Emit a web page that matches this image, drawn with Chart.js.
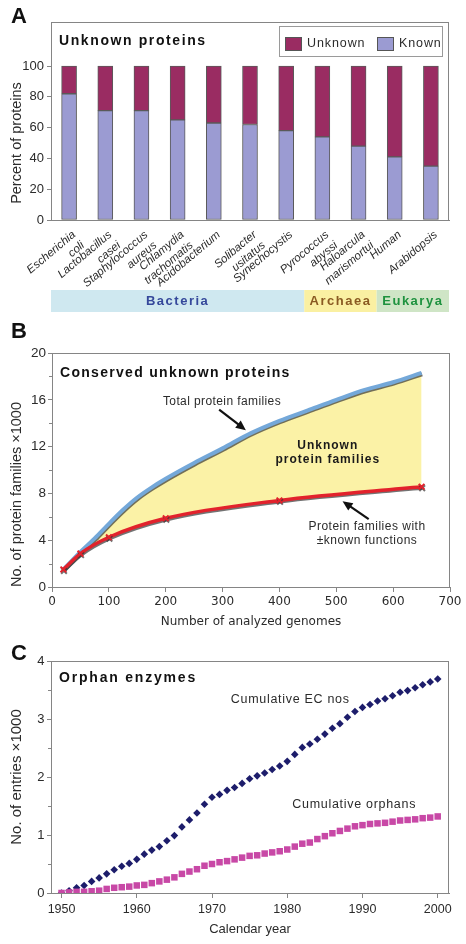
<!DOCTYPE html>
<html>
<head>
<meta charset="utf-8">
<script src="https://cdn.jsdelivr.net/npm/chart.js@4.4.1/dist/chart.umd.min.js"></script>
<style>
  html, body { margin: 0; padding: 0; background: #fff; }
  body { width: 466px; height: 944px; position: relative; overflow: hidden; }
  .panel { position: absolute; left: 0; width: 466px; }
</style>
</head>
<body>
<div class="panel" style="top:0;height:320px"><canvas id="chartA" width="466" height="320"></canvas></div>
<div class="panel" style="top:320px;height:310px"><canvas id="chartB" width="466" height="310"></canvas></div>
<div class="panel" style="top:630px;height:314px"><canvas id="chartC" width="466" height="314"></canvas></div>
<script>
// ---------- data: panel A ----------
const organisms = [
  ["Escherichia", "coli"], ["Lactobacillus", "casei"], ["Staphylococcus", "aureus"],
  ["Chlamydia", "trachomatis"], "Acidobacterium", ["Solibacter", "usitatus"],
  "Synechocystis", ["Pyrococcus", "abyssi"], ["Haloarcula", "marismortui"],
  "Human", "Arabidopsis"
];
const knownPct = [82, 71, 71, 65, 63, 62, 58, 54, 48, 41, 35];
const unknownPct = [18, 29, 29, 35, 37, 38, 42, 46, 52, 59, 65];
const pctTicks = [0, 20, 40, 60, 80, 100];
const domains = ["Bacteria", "Archaea", "Eukarya"];
const domainSize = [7, 2, 2];

// ---------- data: panel B (thousands of families) ----------
const genomesTotal = [20, 50, 75, 100, 125, 150, 175, 200, 250, 300, 350, 400, 450, 500, 550, 600, 650];
const totalFamilies = [1.5, 3.0, 4.15, 5.4, 6.6, 7.65, 8.5, 9.25, 10.6, 11.85, 13.15, 14.2, 15.1, 16.0, 16.85, 17.5, 18.3];
const genomesKnown = [20, 50, 100, 200, 400, 650];
const knownFamilies = [1.5, 2.85, 4.25, 5.87, 7.4, 8.57];

// ---------- data: panel C (thousands of entries) ----------
const years = [
  1950, 1951, 1952, 1953, 1954, 1955, 1956, 1957, 1958, 1959,
  1960, 1961, 1962, 1963, 1964, 1965, 1966, 1967, 1968, 1969,
  1970, 1971, 1972, 1973, 1974, 1975, 1976, 1977, 1978, 1979,
  1980, 1981, 1982, 1983, 1984, 1985, 1986, 1987, 1988, 1989,
  1990, 1991, 1992, 1993, 1994, 1995, 1996, 1997, 1998, 1999, 2000
];
const ecNos = [
  0, 0.04, 0.09, 0.13, 0.2, 0.26, 0.33, 0.4, 0.46, 0.51,
  0.58, 0.67, 0.74, 0.8, 0.9, 0.99, 1.14, 1.26, 1.38, 1.53,
  1.65, 1.7, 1.77, 1.82, 1.89, 1.97, 2.02, 2.07, 2.13, 2.19,
  2.27, 2.39, 2.51, 2.57, 2.65, 2.74, 2.84, 2.92, 3.03, 3.13,
  3.2, 3.25, 3.31, 3.35, 3.4, 3.46, 3.49, 3.54, 3.59, 3.64, 3.69
];
const orphans = [
  0, 0.01, 0.02, 0.02, 0.03, 0.04, 0.07, 0.09, 0.1, 0.11,
  0.13, 0.14, 0.17, 0.2, 0.23, 0.27, 0.33, 0.37, 0.41, 0.47,
  0.5, 0.53, 0.55, 0.58, 0.61, 0.64, 0.65, 0.68, 0.7, 0.72,
  0.75, 0.8, 0.85, 0.87, 0.93, 0.98, 1.03, 1.07, 1.11, 1.15,
  1.17, 1.19, 1.2, 1.21, 1.23, 1.25, 1.26, 1.27, 1.29, 1.3, 1.32
];
const yearTicks = [1950, 1960, 1970, 1980, 1990, 2000];

// ---------- look ----------
const FONT = "'Liberation Sans', Arial, sans-serif";
const WIDE = "'DejaVu Sans', Verdana, sans-serif";
const TEXT = "#2b2b2b";
const AXIS = "#858585";
const KNOWN_COLOR = "#9b9bd2";
const UNKNOWN_COLOR = "#9a2c62";
const BLUE = "#74a8d9";
const RED = "#e2222c";
const YELLOW = "#fbf2a6";
const NAVY = "#1d1d6b";
const MAGENTA = "#c848a6";
const domainBg = ["#cfe8f0", "#faf0a2", "#cfe5c6"];
const domainText = ["#35489b", "#8a5a22", "#1e923f"];

Chart.defaults.font.family = FONT;
Chart.defaults.color = TEXT;
Chart.defaults.animation = false;

function label(ctx, text, x, y, font, opts = {}) {
  ctx.save();
  ctx.font = font;
  ctx.fillStyle = opts.color || TEXT;
  ctx.letterSpacing = (opts.spacing || 0) + "px";
  ctx.textAlign = opts.align || "center";
  ctx.textBaseline = "middle";
  ctx.fillText(text, x, y);
  ctx.restore();
}

function panelLetter(ctx, letter, baseline) {
  ctx.save();
  ctx.font = `bold 22px ${FONT}`;
  ctx.fillStyle = "#111";
  ctx.textBaseline = "alphabetic";
  ctx.fillText(letter, 11, baseline);
  ctx.restore();
}

function arrow(ctx, x1, y1, x2, y2) {
  const c = Math.cos(Math.atan2(y2 - y1, x2 - x1));
  const s = Math.sin(Math.atan2(y2 - y1, x2 - x1));
  ctx.save();
  ctx.strokeStyle = "#111";
  ctx.fillStyle = "#111";
  ctx.lineWidth = 2.2;
  ctx.beginPath();
  ctx.moveTo(x1, y1);
  ctx.lineTo(x2 - 7 * c, y2 - 7 * s);
  ctx.stroke();
  ctx.beginPath();
  ctx.moveTo(x2, y2);
  ctx.lineTo(x2 - 10 * c + 4.5 * s, y2 - 10 * s - 4.5 * c);
  ctx.lineTo(x2 - 10 * c - 4.5 * s, y2 - 10 * s + 4.5 * c);
  ctx.closePath();
  ctx.fill();
  ctx.restore();
}

function minorTicks(chart, majorStep) {
  const { ctx, chartArea: a, scales: { y } } = chart;
  ctx.save();
  ctx.strokeStyle = AXIS;
  ctx.lineWidth = 1;
  ctx.beginPath();
  for (let v = y.min + majorStep / 2; v < y.max; v += majorStep) {
    const py = Math.round(y.getPixelForValue(v)) + 0.5;
    ctx.moveTo(a.left - 3, py);
    ctx.lineTo(a.left, py);
  }
  ctx.stroke();
  ctx.restore();
}

const frame = {
  id: "frame",
  beforeDatasetsDraw(chart) {
    const { ctx, chartArea: a } = chart;
    ctx.save();
    ctx.strokeStyle = AXIS;
    ctx.lineWidth = 1;
    ctx.strokeRect(Math.round(a.left) + 0.5, Math.round(a.top) + 0.5,
      Math.round(a.right - a.left) - 1, Math.round(a.bottom - a.top));
    ctx.restore();
  }
};

// ---------- panel A ----------
const decorA = {
  id: "decorA",
  afterDraw(chart) {
    const { ctx, chartArea: a, scales: { x, y } } = chart;
    panelLetter(ctx, "A", 23);
    label(ctx, "Unknown proteins", a.left + 8, a.top + 19, `bold 14px ${FONT}`,
      { align: "left", spacing: 1.6, color: "#111" });

    ctx.save();
    ctx.translate(17, (y.getPixelForValue(0) + y.getPixelForValue(100)) / 2);
    ctx.rotate(-Math.PI / 2);
    label(ctx, "Percent of proteins", 0, 0, `14.5px ${FONT}`);
    ctx.restore();

    // legend box
    const bx = a.right - 170, by = a.top + 4;
    ctx.save();
    ctx.fillStyle = "#fff";
    ctx.strokeStyle = "#9a9a9a";
    ctx.fillRect(bx, by, 163, 30);
    ctx.strokeRect(bx + 0.5, by + 0.5, 163, 30);
    const items = chart.data.datasets.slice().reverse();
    const offsets = [6, 98];
    items.forEach((ds, i) => {
      const sx = bx + offsets[i];
      ctx.fillStyle = ds.backgroundColor;
      ctx.strokeStyle = "#555";
      ctx.fillRect(sx, by + 11, 16, 13);
      ctx.strokeRect(sx + 0.5, by + 11.5, 16, 13);
      label(ctx, ds.label, sx + 22, by + 18, `12.5px ${FONT}`, { align: "left", spacing: 0.9 });
    });
    ctx.restore();

    // domain band
    const top = a.bottom + 70, h = 22;
    let start = 0;
    let left = a.left;
    domains.forEach((name, i) => {
      const endIdx = start + domainSize[i] - 1;
      const right = endIdx === organisms.length - 1 ? a.right
        : (x.getPixelForTick(endIdx) + x.getPixelForTick(endIdx + 1)) / 2;
      ctx.fillStyle = domainBg[i];
      ctx.fillRect(left, top, right - left, h);
      label(ctx, name, (left + right) / 2, top + h / 2 + 0.5, `bold 13px ${FONT}`,
        { color: domainText[i], spacing: 1.5 });
      left = right;
      start += domainSize[i];
    });
  }
};

new Chart(document.getElementById("chartA"), {
  type: "bar",
  data: {
    labels: organisms,
    datasets: [
      { label: "Known", data: knownPct, backgroundColor: KNOWN_COLOR, borderColor: "#5a5a5a",
        borderWidth: 1, borderSkipped: false, barThickness: 15 },
      { label: "Unknown", data: unknownPct, backgroundColor: UNKNOWN_COLOR, borderColor: "#5a5a5a",
        borderWidth: 1, borderSkipped: false, barThickness: 15 }
    ]
  },
  options: {
    responsive: false,
    layout: { padding: { left: 0, right: 17, top: 22, bottom: 0 } },
    plugins: { legend: { display: false }, tooltip: { enabled: false } },
    scales: {
      x: {
        stacked: true,
        grid: { display: false },
        border: { color: AXIS },
        ticks: {
          autoSkip: false, minRotation: 40, maxRotation: 40, padding: 0, labelOffset: 5,
          color: TEXT, font: { size: 11.5, style: "italic" }
        },
        afterFit(s) { s.height = 100; }
      },
      y: {
        stacked: true, min: 0, max: 128.6,
        afterBuildTicks(s) { s.ticks = pctTicks.map((v) => ({ value: v })); },
        grid: { drawOnChartArea: false, tickLength: 4, color: AXIS },
        border: { color: AXIS },
        ticks: { padding: 3, color: TEXT, font: { size: 13 } },
        afterFit(s) { s.width = 51; }
      }
    }
  },
  plugins: [frame, decorA]
});

// ---------- panel B ----------
const lineShadow = {
  id: "lineShadow",
  beforeDatasetDraw(chart) {
    const c = chart.ctx;
    c.save();
    c.shadowColor = "rgba(55,55,55,0.7)";
    c.shadowOffsetX = 0.6;
    c.shadowOffsetY = 1.4;
    c.shadowBlur = 0;
  },
  afterDatasetDraw(chart) { chart.ctx.restore(); }
};

const decorB = {
  id: "decorB",
  afterDraw(chart) {
    const { ctx, chartArea: a, scales: { x, y } } = chart;
    panelLetter(ctx, "B", 18);
    minorTicks(chart, 4);
    label(ctx, "Conserved unknown proteins", a.left + 8, a.top + 20, `bold 14px ${FONT}`,
      { align: "left", spacing: 1.3, color: "#111" });
    label(ctx, "Total protein families", x.getPixelForValue(299), y.getPixelForValue(15.8),
      `12px ${FONT}`, { spacing: 0.4 });
    arrow(ctx, x.getPixelForValue(294), y.getPixelForValue(15.16),
      x.getPixelForValue(341), y.getPixelForValue(13.4));
    label(ctx, "Unknown", x.getPixelForValue(485), y.getPixelForValue(12.05),
      `bold 12px ${FONT}`, { spacing: 1, color: "#1a1a1a" });
    label(ctx, "protein families", x.getPixelForValue(485), y.getPixelForValue(10.85),
      `bold 12px ${FONT}`, { spacing: 1, color: "#1a1a1a" });
    label(ctx, "Protein families with", x.getPixelForValue(554), y.getPixelForValue(5.13),
      `12px ${FONT}`, { spacing: 0.5 });
    label(ctx, "\u00b1known functions", x.getPixelForValue(554), y.getPixelForValue(3.93),
      `12px ${FONT}`, { spacing: 0.5 });
    arrow(ctx, x.getPixelForValue(557), y.getPixelForValue(5.8),
      x.getPixelForValue(511), y.getPixelForValue(7.33));
  }
};

new Chart(document.getElementById("chartB"), {
  type: "line",
  data: {
    datasets: [
      {
        label: "Protein families with \u00b1known functions",
        data: genomesKnown.map((g, i) => ({ x: g, y: knownFamilies[i] })),
        borderColor: RED, borderWidth: 3.5,
        pointStyle: "crossRot", pointRadius: 4, pointBorderWidth: 2,
        pointBorderColor: RED, pointBackgroundColor: RED,
        cubicInterpolationMode: "monotone", fill: false
      },
      {
        label: "Total protein families",
        data: genomesTotal.map((g, i) => ({ x: g, y: totalFamilies[i] })),
        borderColor: BLUE, borderWidth: 4, pointRadius: 0,
        cubicInterpolationMode: "monotone",
        fill: "-1", backgroundColor: YELLOW
      }
    ]
  },
  options: {
    responsive: false,
    layout: { padding: { left: 0, right: 16, top: 33, bottom: 0 } },
    plugins: {
      legend: { display: false }, tooltip: { enabled: false },
      filler: { drawTime: "beforeDatasetsDraw" }
    },
    scales: {
      x: {
        type: "linear", min: 0, max: 700,
        ticks: { stepSize: 100, padding: 3, color: TEXT, font: { family: WIDE, size: 12 } },
        grid: { drawOnChartArea: false, tickLength: 5, color: AXIS },
        border: { color: AXIS },
        title: { display: true, text: "Number of analyzed genomes", color: TEXT,
          font: { family: WIDE, size: 12 }, padding: { top: 0, bottom: 1 } },
        afterFit(s) { s.height = 43; }
      },
      y: {
        min: 0, max: 20,
        ticks: { stepSize: 4, padding: 2, color: TEXT, font: { size: 13.5 } },
        grid: { drawOnChartArea: false, tickLength: 4, color: AXIS },
        border: { color: AXIS },
        title: { display: true, text: "No. of protein families \u00d71000", align: "start", color: TEXT,
          font: { size: 14.5 }, padding: { top: 8, bottom: 0 } },
        afterFit(s) { s.width = 52; }
      }
    }
  },
  plugins: [frame, lineShadow, decorB]
});

// ---------- panel C ----------
const decorC = {
  id: "decorC",
  afterDraw(chart) {
    const { ctx, chartArea: a, scales: { x, y } } = chart;
    panelLetter(ctx, "C", 30);
    minorTicks(chart, 1);
    label(ctx, "Orphan enzymes", a.left + 8, a.top + 17, `bold 14px ${FONT}`,
      { align: "left", spacing: 1.8, color: "#111" });
    label(ctx, "Cumulative EC nos", x.getPixelForValue(1980.4), y.getPixelForValue(3.34),
      `12.5px ${FONT}`, { spacing: 0.7 });
    label(ctx, "Cumulative orphans", x.getPixelForValue(1988.9), y.getPixelForValue(1.52),
      `12.5px ${FONT}`, { spacing: 0.7 });
  }
};

new Chart(document.getElementById("chartC"), {
  type: "scatter",
  data: {
    datasets: [
      {
        label: "Cumulative orphans",
        data: years.map((yr, i) => ({ x: yr, y: orphans[i] })),
        pointStyle: "rect", pointRadius: 4.6, pointBorderWidth: 0,
        backgroundColor: MAGENTA, borderColor: MAGENTA
      },
      {
        label: "Cumulative EC nos",
        data: years.map((yr, i) => ({ x: yr, y: ecNos[i] })),
        pointStyle: "rectRot", pointRadius: 3.8, pointBorderWidth: 0,
        backgroundColor: NAVY, borderColor: NAVY
      }
    ]
  },
  options: {
    responsive: false,
    layout: { padding: { left: 0, right: 17, top: 31, bottom: 0 } },
    plugins: { legend: { display: false }, tooltip: { enabled: false } },
    scales: {
      x: {
        type: "linear", min: 1948.6, max: 2001.5,
        afterBuildTicks(s) { s.ticks = yearTicks.map((v) => ({ value: v })); },
        ticks: { padding: 4, color: TEXT, font: { size: 12.5 }, callback: (v) => String(v) },
        grid: { drawOnChartArea: false, tickLength: 5, color: AXIS },
        border: { color: AXIS },
        title: { display: true, text: "Calendar year", color: TEXT,
          font: { size: 13 }, padding: { top: 0, bottom: 7 } },
        afterFit(s) { s.height = 51; }
      },
      y: {
        min: 0, max: 4,
        ticks: { stepSize: 1, padding: 2.5, color: TEXT, font: { size: 13 } },
        grid: { drawOnChartArea: false, tickLength: 4, color: AXIS },
        border: { color: AXIS },
        title: { display: true, text: "No. of entries \u00d71000", color: TEXT,
          font: { size: 15 }, padding: { top: 8, bottom: 0 } },
        afterFit(s) { s.width = 51; }
      }
    }
  },
  plugins: [frame, decorC]
});
</script>
</body>
</html>
